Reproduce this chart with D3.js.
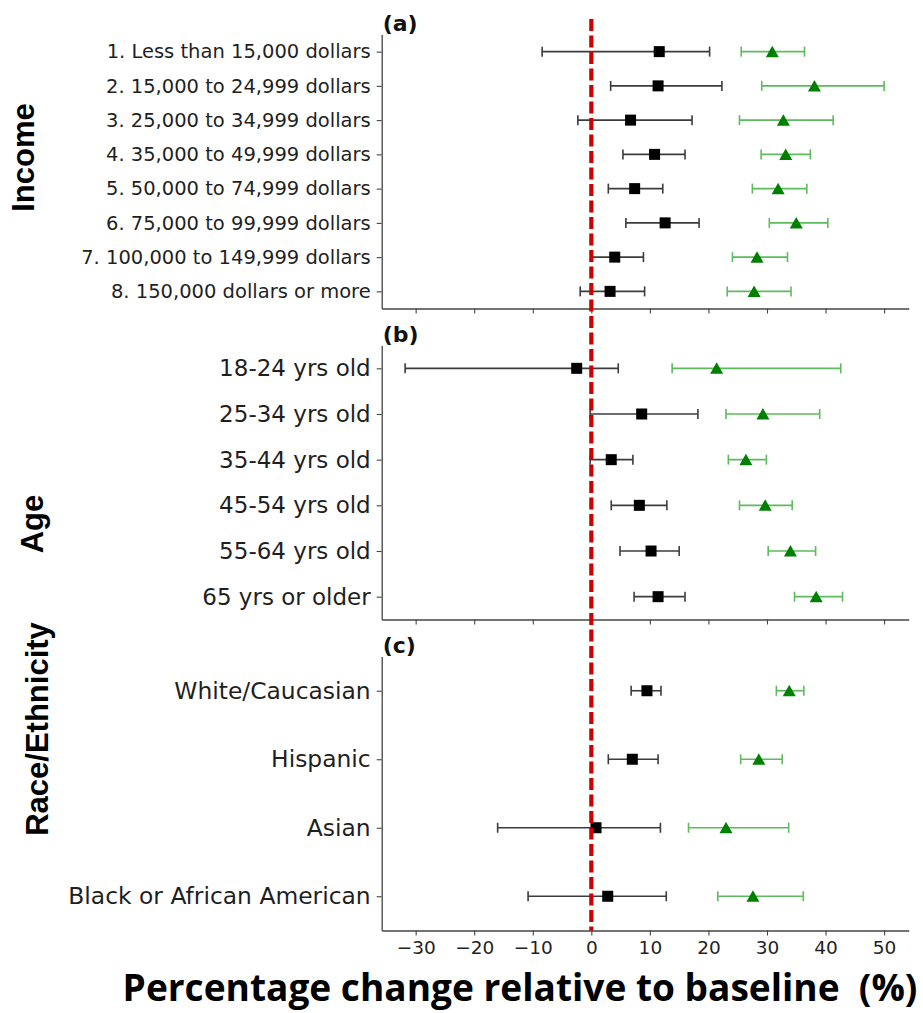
<!DOCTYPE html>
<html><head><meta charset="utf-8">
<script src="https://cdn.jsdelivr.net/npm/d3@7"></script>
<style>body{margin:0;background:#fff}</style>
</head><body>
<svg id="chart" width="923" height="1013" xmlns="http://www.w3.org/2000/svg"></svg>
<script>
// ---- data ----
const incomeCats = ["1. Less than 15,000 dollars","2. 15,000 to 24,999 dollars","3. 25,000 to 34,999 dollars","4. 35,000 to 49,999 dollars","5. 50,000 to 74,999 dollars","6. 75,000 to 99,999 dollars","7. 100,000 to 149,999 dollars","8. 150,000 dollars or more"];
const incomeBlackMid = [11.6, 11.4, 6.7, 10.8, 7.4, 12.6, 4.0, 3.2];
const incomeBlackLo  = [-8.4, 3.3, -2.3, 5.4, 2.9, 5.9, -0.1, -1.9];
const incomeBlackHi  = [20.2, 22.3, 17.2, 16.0, 12.2, 18.4, 8.9, 9.1];
const incomeGreenMid = [30.9, 38.1, 32.8, 33.2, 31.9, 35.0, 28.3, 27.8];
const incomeGreenLo  = [25.6, 29.1, 25.3, 29.0, 27.5, 30.4, 24.1, 23.2];
const incomeGreenHi  = [36.4, 50.0, 41.3, 37.4, 36.8, 40.4, 33.5, 34.1];

const ageCats = ["18-24 yrs old","25-34 yrs old","35-44 yrs old","45-54 yrs old","55-64 yrs old","65 yrs or older"];
const ageBlackMid = [-2.5, 8.6, 3.4, 8.2, 10.2, 11.4];
const ageBlackLo  = [-31.8, -0.2, -0.2, 3.4, 4.9, 7.3];
const ageBlackHi  = [4.6, 18.2, 7.1, 12.9, 15.0, 16.0];
const ageGreenMid = [21.4, 29.3, 26.4, 29.7, 34.0, 38.4];
const ageGreenLo  = [13.8, 23.0, 23.4, 25.3, 30.2, 34.7];
const ageGreenHi  = [42.6, 39.0, 29.9, 34.3, 38.3, 42.9];

const raceCats = ["White/Caucasian","Hispanic","Asian","Black or African American"];
const raceBlackMid = [9.5, 7.0, 0.8, 2.8];
const raceBlackLo  = [6.8, 2.9, -16.0, -10.8];
const raceBlackHi  = [11.9, 11.4, 11.8, 12.8];
const raceGreenMid = [33.8, 28.6, 23.0, 27.6];
const raceGreenLo  = [31.6, 25.5, 16.6, 21.6];
const raceGreenHi  = [36.3, 32.6, 33.7, 36.2];

const xTicks = [-30, -20, -10, 0, 10, 20, 30, 40, 50];
const panelTags = ["(a)", "(b)", "(c)"];
const groupTitles = ["Income", "Age", "Race/Ethnicity"];
const xTitle = "Percentage change relative to baseline  (%)";

// ---- layout ----
const svg = d3.select("#chart");
const x = d3.scaleLinear().domain([-35.8, 54.2]).range([381.7, 908.7]);
const ink = "#1f1f1f", spine = "#444";

const panels = [
  {cats: incomeCats, bm: incomeBlackMid, bl: incomeBlackLo, bh: incomeBlackHi, gm: incomeGreenMid, gl: incomeGreenLo, gh: incomeGreenHi,
   top: 34.5, bottom: 308.5, fs: 19.5, titleX: 33.5, titleY: 157.5},
  {cats: ageCats, bm: ageBlackMid, bl: ageBlackLo, bh: ageBlackHi, gm: ageGreenMid, gl: ageGreenLo, gh: ageGreenHi,
   top: 345.5, bottom: 619.5, fs: 23, titleX: 42.5, titleY: 524},
  {cats: raceCats, bm: raceBlackMid, bl: raceBlackLo, bh: raceBlackHi, gm: raceGreenMid, gl: raceGreenLo, gh: raceGreenHi,
   top: 656.5, bottom: 930.5, fs: 23.4, titleX: 48, titleY: 729}
];

panels.forEach((p, pi) => {
  const y = d3.scalePoint().domain(p.cats).range([p.top, p.bottom]).padding(0.5);
  const g = svg.append("g");

  // y axis
  const ya = g.append("g").attr("transform", `translate(${x.range()[0]},0)`)
    .call(d3.axisLeft(y).tickSize(5).tickPadding(6).tickSizeOuter(0));
  ya.select(".domain").attr("stroke", spine).attr("stroke-width", 1.3);
  ya.selectAll(".tick line").attr("stroke", spine).attr("stroke-width", 1.1);
  ya.selectAll(".tick text").attr("font-family", "DejaVu Sans").attr("font-size", p.fs).attr("fill", ink);

  // x axis
  const xa = g.append("g").attr("transform", `translate(0,${p.bottom})`)
    .call(d3.axisBottom(x).tickValues(xTicks).tickSize(5).tickPadding(5).tickSizeOuter(0)
      .tickFormat(pi === 2 ? (d => d < 0 ? "\u2212" + Math.abs(d) : String(d)) : () => ""));
  xa.select(".domain").attr("stroke", spine).attr("stroke-width", 1.3);
  xa.selectAll(".tick line").attr("stroke", spine).attr("stroke-width", 1.1);
  xa.selectAll(".tick text").attr("font-family", "DejaVu Sans").attr("font-size", 18.5).attr("fill", ink);

  // panel tag
  g.append("text").attr("x", x.range()[0] + 1).attr("y", p.top - 4)
    .attr("font-family", "DejaVu Sans").attr("font-weight", "bold").attr("font-size", 22).attr("fill", "#111")
    .text(panelTags[pi]);

  // group title
  g.append("text").attr("transform", `translate(${p.titleX},${p.titleY}) rotate(-90)`)
    .attr("text-anchor", "middle").attr("font-family", "'Liberation Sans', Arial, sans-serif")
    .attr("font-weight", "bold").attr("font-size", 31).attr("fill", "#000")
    .text(groupTitles[pi]);

  const series = [
    {mid: p.bm, lo: p.bl, hi: p.bh, line: "#3c3c3c", fill: "#000", shape: "square"},
    {mid: p.gm, lo: p.gl, hi: p.gh, line: "#5dbb5d", fill: "#008000", shape: "tri"}
  ];
  series.forEach(s => {
    const eg = g.append("g");
    p.cats.forEach((c, i) => {
      const yy = y(c);
      eg.append("line").attr("x1", x(s.lo[i])).attr("x2", x(s.hi[i])).attr("y1", yy).attr("y2", yy)
        .attr("stroke", s.line).attr("stroke-width", 1.6);
      [s.lo[i], s.hi[i]].forEach(v => {
        eg.append("line").attr("x1", x(v)).attr("x2", x(v)).attr("y1", yy - 5).attr("y2", yy + 5)
          .attr("stroke", s.line).attr("stroke-width", 1.6);
      });
    });
    p.cats.forEach((c, i) => {
      const cx = x(s.mid[i]), cy = y(c);
      if (s.shape === "square") {
        g.append("rect").attr("x", cx - 5.5).attr("y", cy - 5.5).attr("width", 11).attr("height", 11)
          .attr("fill", s.fill);
      } else {
        g.append("path").attr("d", `M${cx},${cy - 6}L${cx + 6.5},${cy + 5.5}L${cx - 6.5},${cy + 5.5}Z`)
          .attr("fill", s.fill);
      }
    });
  });
});

// red baseline
svg.append("line").attr("x1", x(0)).attr("x2", x(0)).attr("y1", 19).attr("y2", 930.5)
  .attr("stroke", "#cc0000").attr("stroke-width", 4.2).attr("stroke-dasharray", "12,4.5");

// x title
const t = svg.append("text").attr("x", 520).attr("y", 1001).attr("text-anchor", "middle")
  .attr("font-family", "Open Sans").attr("font-weight", "bold").attr("font-size", 34)
  .attr("fill", "#000").style("white-space", "pre").text(xTitle);
const w = t.node().getComputedTextLength();
const targetW = 795;
t.attr("font-size", 34 * targetW / w);
</script>
</body></html>
